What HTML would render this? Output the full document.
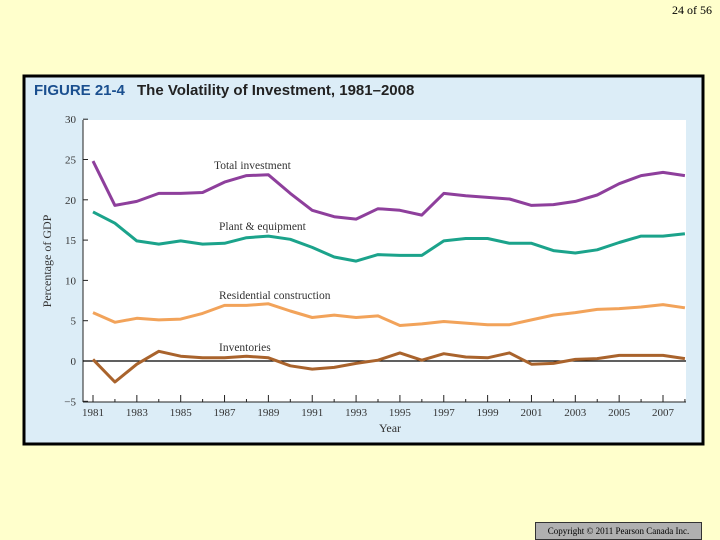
<!DOCTYPE html>
<html><head><meta charset="utf-8"><style>
body{margin:0;width:720px;height:540px;background:#ffffcc;position:relative;overflow:hidden;font-family:"Liberation Serif",serif}
#pg{position:absolute;right:8px;top:3px;font-size:12px}
#copy{position:absolute;left:535px;top:522px;width:167px;height:18px;background:#b0b0b0;border:1px solid #333;box-sizing:border-box;font-size:9px;text-align:center;line-height:16px}
</style></head><body>
<div id="pg">24 of 56</div>
<svg id="c" width="720" height="540" style="position:absolute;left:0;top:0"></svg>
<div id="copy">Copyright © 2011 Pearson Canada Inc.</div>
<script>
const years=[1981,1982,1983,1984,1985,1986,1987,1988,1989,1990,1991,1992,1993,1994,1995,1996,1997,1998,1999,2000,2001,2002,2003,2004,2005,2006,2007,2008];
const totalInvestment=[24.8,19.3,19.8,20.8,20.8,20.9,22.2,23.0,23.1,20.8,18.7,17.9,17.6,18.9,18.7,18.1,20.8,20.5,20.3,20.1,19.3,19.4,19.8,20.6,22.0,23.0,23.4,23.0];
const plantEquipment=[18.5,17.1,14.9,14.5,14.9,14.5,14.6,15.3,15.5,15.1,14.1,12.9,12.4,13.2,13.1,13.1,14.9,15.2,15.2,14.6,14.6,13.7,13.4,13.8,14.7,15.5,15.5,15.8];
const residential=[6.0,4.8,5.3,5.1,5.2,5.9,6.9,6.9,7.1,6.2,5.4,5.7,5.4,5.6,4.4,4.6,4.9,4.7,4.5,4.5,5.1,5.7,6.0,6.4,6.5,6.7,7.0,6.6];
const inventories=[0.2,-2.6,-0.4,1.2,0.6,0.4,0.4,0.6,0.4,-0.6,-1.0,-0.8,-0.3,0.1,1.0,0.1,0.9,0.5,0.4,1.0,-0.4,-0.3,0.2,0.3,0.7,0.7,0.7,0.3];
const yTicks=[-5,0,5,10,15,20,25,30];
const xTickLabels=[1981,1983,1985,1987,1989,1991,1993,1995,1997,1999,2001,2003,2005,2007];
const NS='http://www.w3.org/2000/svg';
const svg=document.getElementById('c');
const X=y=>93+(y-1981)*(570/26);
const Y=v=>361-v*8.06;
function mk(t,a,p){const e=document.createElementNS(NS,t);for(const k in a)e.setAttribute(k,a[k]);(p||svg).appendChild(e);return e;}
let e;
e=mk('rect',{x:24,y:76,width:679,height:368,fill:'#dcedf7',stroke:'#000','stroke-width':3});


e=mk('text',{x:34,y:95,'font-family':'Liberation Sans, sans-serif','font-weight':'bold','font-size':15,fill:'#1a4f8f'});e.textContent='FIGURE 21-4';


e=mk('text',{x:137,y:95,'font-family':'Liberation Sans, sans-serif','font-weight':'bold','font-size':15,fill:'#222'});e.textContent='The Volatility of Investment, 1981–2008';


e=mk('rect',{x:83,y:120,width:603,height:282,fill:'#fff'});


mk('line',{x1:83,y1:120,x2:83,y2:402,stroke:'#222','stroke-width':1});
yTicks.forEach(t=>{mk('line',{x1:83,y1:Y(t),x2:88,y2:Y(t),stroke:'#222'});
 e=mk('text',{x:76,y:Y(t)+4,'text-anchor':'end','font-size':11,fill:'#333'});e.textContent=t<0?'−'+(-t):t;
 
 });
mk('line',{x1:83,y1:402,x2:686,y2:402,stroke:'#222'});
years.forEach(y=>mk('line',{x1:X(y),y1:402,x2:X(y),y2:(y%2?395:399),stroke:'#222'}));
xTickLabels.forEach(y=>{e=mk('text',{x:X(y),y:416,'text-anchor':'middle','font-size':11,fill:'#333'});e.textContent=y;
 
 });
e=mk('line',{x1:83,y1:Y(0),x2:686,y2:Y(0),stroke:'#000','stroke-width':1.2});


e=mk('text',{x:390,y:432,'text-anchor':'middle','font-size':12,fill:'#333'});e.textContent='Year';


e=mk('text',{x:0,y:0,'text-anchor':'middle','font-size':12,fill:'#333',transform:'translate(51,261) rotate(-90)'});e.textContent='Percentage of GDP';


function series(vals,color,name){const d=vals.map((v,i)=>(i?'L':'M')+X(years[i]).toFixed(1)+','+Y(v).toFixed(1)).join('');
 const p=mk('path',{d:d,fill:'none',stroke:color,'stroke-width':3,'stroke-linejoin':'round'});
 
 }
series(totalInvestment,'#8e3f9c','total-investment-line');
series(plantEquipment,'#1ba38b','plant-equipment-line');
series(residential,'#f2a35a','residential-construction-line');
series(inventories,'#a9632c','inventories-line');
[['Total investment',214,169,'total-investment-label'],['Plant & equipment',219,230,'plant-equipment-label'],['Residential construction',219,299,'residential-construction-label'],['Inventories',219,351,'inventories-label']].forEach(l=>{
 e=mk('text',{x:l[1],y:l[2],'font-size':11.5,fill:'#333'});e.textContent=l[0];
 
 });
</script>
</body></html>
